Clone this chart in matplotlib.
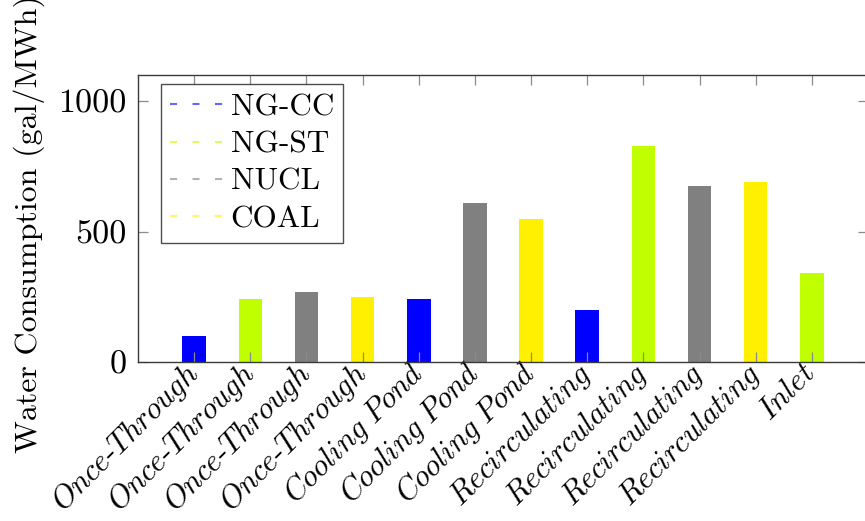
import matplotlib
matplotlib.use("Agg")
import matplotlib.pyplot as plt
from matplotlib.lines import Line2D

# Data
categories = ["Once-Through", "Once-Through", "Once-Through", "Once-Through",
              "Cooling Pond", "Cooling Pond", "Cooling Pond",
              "Recirculating", "Recirculating", "Recirculating", "Recirculating",
              "Inlet"]
fuel = ["NG-CC", "NG-ST", "NUCL", "COAL",
        "NG-CC", "NUCL", "COAL",
        "NG-CC", "NG-ST", "NUCL", "COAL",
        "NG-ST"]
values = [100, 240, 270, 250, 240, 610, 548, 200, 828, 673, 688, 341]
legend_names = ["NG-CC", "NG-ST", "NUCL", "COAL"]
colors = {"NG-CC": "#0000FF", "NG-ST": "#BFFF00", "NUCL": "#808080", "COAL": "#FFEF00"}
yticks = [0, 500, 1000]

plt.rcParams['font.family'] = ['cmr10', 'DejaVu Serif']
plt.rcParams['mathtext.fontset'] = 'cm'
plt.rcParams['axes.formatter.use_mathtext'] = True
FS_Y = 24.5
FS_X = 22
FS_LAB = 23
FS_LEG = 22.5

fig = plt.figure(figsize=(8.65, 5.21), dpi=100)
ax = fig.add_axes([138/865, 1 - 362/521, 730/865, 287/521])

xs = list(range(1, len(values) + 1))
ax.bar(xs, values, width=0.42, color=[colors[f] for f in fuel], zorder=1, linewidth=0)

ax.set_xlim(0, len(values) + 1)
ax.set_ylim(0, 1100)
ax.set_yticks(yticks)
ax.set_yticklabels([str(t) for t in yticks], fontsize=FS_Y)
ax.set_xticks(xs)
labels = [r'$\mathit{' + c.replace(' ', r'\ ').replace('-', r'}$-$\mathit{') + '}$' for c in categories]
ax.set_xticklabels(labels, fontsize=FS_X)
plt.setp(ax.get_xticklabels(), rotation=45, ha='right', va='center', rotation_mode='anchor')

ax.tick_params(axis='both', direction='in', length=7.5, width=0.9, color='#8a8a8a',
               top=True, right=True)
ax.tick_params(axis='x', pad=5)
ax.tick_params(axis='y', pad=8)
for s in ax.spines.values():
    s.set_color('#3a3a3a')
    s.set_linewidth(1.0)

ax.set_ylabel('Water Consumption (gal/MWh)', fontsize=FS_LAB)
ax.yaxis.set_label_coords(-0.127, 0.48)

handles = [Line2D([0], [0], color=colors[n], linestyle=(0, (3.4, 7.4)), linewidth=1.5, alpha=0.6)
           for n in legend_names]
leg = ax.legend(handles, legend_names, loc='upper left', bbox_to_anchor=(0.0315, 0.969),
                borderaxespad=0, fontsize=FS_LEG, frameon=True, fancybox=False,
                handlelength=1.73, handletextpad=0.2, labelspacing=0.3, borderpad=0.3)
leg.get_frame().set_edgecolor('#222222')
leg.get_frame().set_linewidth(1.0)

fig.savefig('out.png', dpi=100)
